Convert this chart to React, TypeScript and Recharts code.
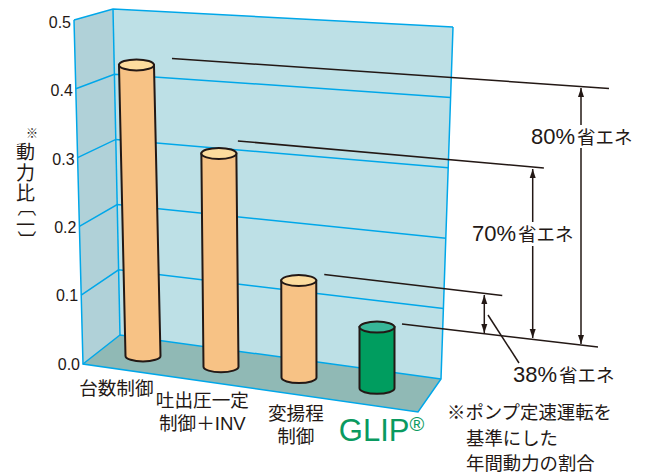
import { Bar, CartesianGrid, ComposedChart, XAxis, YAxis } from "recharts";

const categories = ["台数制御", "吐出圧一定|制御＋INV", "変揚程|制御", "GLIP"];
const powerRatio = [0.423, 0.31, 0.141, 0.089];
const yTicks = [0, 0.1, 0.2, 0.3, 0.4, 0.5];
const savings = ["80%", "70%", "38%"];
const noteLines = ["※ポンプ定速運転を", "基準にした", "年間動力の割合"];
const yTitle = ["動", "力", "比", "一"];

const data = categories.map((name, i) => ({ name, ratio: powerRatio[i] }));

const FONT = "'Liberation Sans', 'Noto Sans CJK JP', sans-serif";
const INK = "#231815";
const WALL_LINE = "#00a7e9";
const PLOT_TOP = 20;
const PLOT_BOTTOM = 364;

// corners of the fake 3D box, bottom then top
const FRONT = [[83, 364], [74, 20]];
const BACK_L = [[120, 335], [113, 9]];
const BACK_R = [[441, 379], [453, 27]];
const FLOOR_FRONT_R = [418, 412];

const lerp = (edge: number[][], t: number) => [
  edge[0][0] + (edge[1][0] - edge[0][0]) * t,
  edge[0][1] + (edge[1][1] - edge[0][1]) * t,
];
const pts = (list: number[][]) => list.map((p) => p.join(",")).join(" ");

// sits behind the chart svg, recharts layers its grid under plain children otherwise
function Walls() {
  return (
    <svg width={648} height={476} style={{ position: "absolute", left: 0, top: 0 }}>
      <polygon points={pts([BACK_L[0], BACK_L[1], BACK_R[1], BACK_R[0]])} fill="#bde0e6" />
      <polygon points={pts([FRONT[0], FRONT[1], BACK_L[1], BACK_L[0]])} fill="#b0d1d8" />
      <polygon points={pts([FRONT[0], BACK_L[0], BACK_R[0], FLOOR_FRONT_R])} fill="#90b9b5" />
      <polyline
        points={pts([FRONT[1], FRONT[0], FLOOR_FRONT_R, BACK_R[0], BACK_R[1]])}
        fill="none"
        stroke={WALL_LINE}
        strokeWidth={1.5}
      />
      <line x1={BACK_L[0][0]} y1={BACK_L[0][1]} x2={BACK_L[1][0]} y2={BACK_L[1][1]} stroke={WALL_LINE} strokeWidth={1.5} />
    </svg>
  );
}

function WallGridLine(props: any) {
  const t = (PLOT_BOTTOM - props.y1) / (PLOT_BOTTOM - PLOT_TOP);
  return (
    <polyline
      key={props.key}
      points={pts([lerp(FRONT, t), lerp(BACK_L, t), lerp(BACK_R, t)])}
      fill="none"
      stroke={WALL_LINE}
      strokeWidth={1.5}
    />
  );
}

// leader line start offset from the cylinder top, and its run/rise
const leaders = [
  { dx: 35.5, dy: -6.5, run: 437, rise: 30 },
  { dx: 19, dy: -12.5, run: 306, rise: 27 },
  { dx: 25.5, dy: -6, run: 178, rise: 21 },
  { dx: 25, dy: -3, run: 196, rise: 23 },
];

function Cylinder(props: any) {
  const { x, width, height, index } = props;
  const r = width / 2;
  const ry = 5.5;
  const cx = x + r;
  const base = 356 + 0.1385 * (cx - 143.5);
  const top = base - height;
  const lean = 0.0223 * Math.pow((377.5 - cx) / 234, 2);
  const topX = cx - lean * height;
  const green = index === 3;
  const leader = leaders[index];
  return (
    <g>
      <path
        d={`M${topX - r},${top} L${cx - r},${base} A${r},${ry} 0 0 0 ${cx + r},${base} L${topX + r},${top} Z`}
        fill={green ? "#009d5f" : "#f7c285"}
        stroke={INK}
        strokeWidth={2}
      />
      <ellipse cx={topX} cy={top} rx={r} ry={ry} fill={green ? "#37b698" : "#fddc9e"} stroke={INK} strokeWidth={2} />
      <line
        x1={topX + leader.dx}
        y1={top + leader.dy}
        x2={topX + leader.dx + leader.run}
        y2={top + leader.dy + leader.rise}
        stroke={INK}
        strokeWidth={1.5}
      />
    </g>
  );
}

function YTick(props: any) {
  const { y, payload } = props;
  const t = (PLOT_BOTTOM - y) / (PLOT_BOTTOM - PLOT_TOP);
  const edge = lerp(FRONT, t);
  return (
    <text x={edge[0] - 3} y={y + 5.5 + 2.5 * t} textAnchor="end" fontSize={16} fontFamily={FONT} fill={INK}>
      {payload.value.toFixed(1)}
    </text>
  );
}

const labelNudge = [1.5, -1.5, 3];

function XTick(props: any) {
  const { x, payload, index } = props;
  const lines = String(payload.value).split("|");
  const labelX = x - 27.5 + (x - 143.5) * 0.141;
  const labelY = 364 + 0.143 * (labelX - 83) + 26;
  if (index === 3) {
    return (
      <text x={labelX - 43} y={labelY + 8} fontSize={31} fontFamily={FONT} fill="#0a9a60">
        {payload.value}
        <tspan fontSize={20} dy={-10}>®</tspan>
      </text>
    );
  }
  return (
    <g>
      {lines.map((line, i) => (
        <text
          key={line}
          x={labelX + labelNudge[index]}
          y={labelY + i * 22.5}
          textAnchor="middle"
          fontSize={18.6}
          fontFamily={FONT}
          fill={INK}
        >
          {line}
        </text>
      ))}
    </g>
  );
}

function Arrow({ x, y1, y2, up, down }: { x: number; y1: number; y2: number; up?: boolean; down?: boolean }) {
  return (
    <g>
      <line x1={x} y1={y1} x2={x} y2={y2} stroke={INK} strokeWidth={1.5} />
      {up && <polygon points={`${x},${y1} ${x - 3},${y1 + 9} ${x + 3},${y1 + 9}`} fill={INK} />}
      {down && <polygon points={`${x},${y2} ${x - 3},${y2 - 9} ${x + 3},${y2 - 9}`} fill={INK} />}
    </g>
  );
}

function Saving({ x, y, label }: { x: number; y: number; label: string }) {
  return (
    <text x={x} y={y} fontFamily={FONT} fill={INK}>
      <tspan fontSize={22}>{label}</tspan>
      <tspan fontSize={18.5} dx={2}>省エネ</tspan>
    </text>
  );
}

function Annotations() {
  return (
    <g>
      <Arrow x={581} y1={88} y2={125} up />
      <Arrow x={581} y1={148} y2={344} down />
      <Arrow x={532.7} y1={169} y2={222} up />
      <Arrow x={532.7} y1={246} y2={338} down />
      <Arrow x={484.3} y1={295} y2={333} up down />
      <line x1={488} y1={315} x2={519} y2={363} stroke={INK} strokeWidth={1.5} />
      <Saving x={531} y={143.5} label={savings[0]} />
      <Saving x={472} y={241} label={savings[1]} />
      <Saving x={513} y={381.5} label={savings[2]} />
      {noteLines.map((line, i) => (
        <text key={line} x={i === 0 ? 447 : 466} y={419 + i * 25.5} fontSize={18.4} fontFamily={FONT} fill={INK}>
          {line}
        </text>
      ))}
      <text x={32} y={138} textAnchor="middle" fontSize={12} fontFamily={FONT} fill={INK}>※</text>
      {yTitle.map((ch, i) => (
        <text key={ch} x={25.5} y={[159, 180, 200, 232][i]} textAnchor="middle" fontSize={19} fontFamily={FONT} fill={INK}>
          {ch}
        </text>
      ))}
      <text transform="translate(25.5 207) rotate(90)" textAnchor="middle" dominantBaseline="central" fontSize={19} fontFamily={FONT} fill={INK}>〔</text>
      <text transform="translate(25.5 240) rotate(90)" textAnchor="middle" dominantBaseline="central" fontSize={19} fontFamily={FONT} fill={INK}>〕</text>
    </g>
  );
}

export default function App() {
  return (
    <div style={{ position: "absolute", left: 0, top: 0, width: 648, height: 476 }}>
      <Walls />
      <div style={{ position: "absolute", left: 0, top: 0 }}>
        <ComposedChart
          width={648}
          height={476}
          data={data}
          margin={{ top: PLOT_TOP, right: 232.5, bottom: 82, left: 43.5 }}
        >
          <CartesianGrid vertical={false} horizontal={WallGridLine} />
          <XAxis dataKey="name" height={30} axisLine={false} tickLine={false} tick={XTick} interval={0} />
          <YAxis
            width={60}
            domain={[0, 0.5]}
            ticks={yTicks}
            axisLine={false}
            tickLine={false}
            tick={YTick}
          />
          <Bar dataKey="ratio" barSize={35} shape={Cylinder} isAnimationActive={false} />
          <Annotations />
        </ComposedChart>
      </div>
    </div>
  );
}
